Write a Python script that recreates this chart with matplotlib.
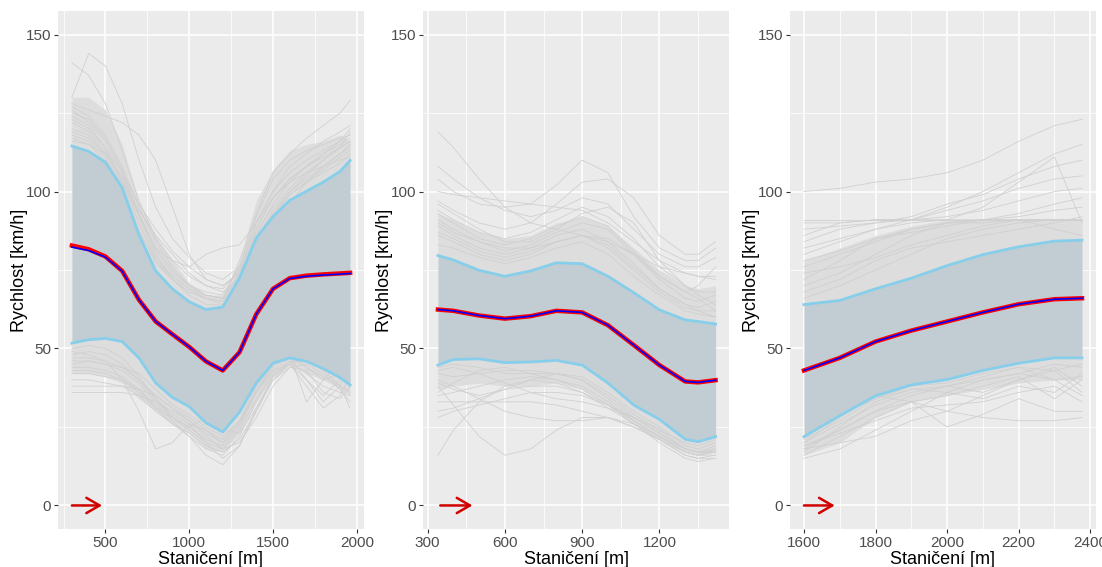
import matplotlib.pyplot as plt
import numpy as np

plt.rcParams["font.family"] = ["Liberation Sans", "DejaVu Sans"]

# ---- panel 1 -------------------------------------------------------------
p1_x = [300, 400, 500, 600, 700, 800, 900, 1000, 1100, 1200, 1300, 1400,
        1500, 1600, 1700, 1800, 1900, 1960]
p1_upper = [114.5, 112.8, 109.3, 101.2, 86.2, 74.7, 69.0, 64.9, 62.4, 63.2,
            72.4, 85.1, 92.0, 97.2, 100.1, 103.0, 106.4, 109.9]
p1_lower = [51.7, 52.8, 53.2, 52.2, 47.0, 39.0, 34.4, 31.5, 26.3, 23.4,
            29.7, 39.0, 45.3, 47.0, 45.9, 43.6, 40.7, 38.4]
p1_mean = [82.8, 81.6, 79.3, 74.7, 65.5, 58.6, 54.5, 50.5, 45.9, 43.0,
           48.8, 60.9, 69.0, 72.4, 73.2, 73.6, 73.9, 74.1]
p1_median = [82.3, 81.2, 79.1, 74.6, 65.5, 58.6, 54.5, 50.5, 45.9, 43.0,
             48.8, 60.9, 69.0, 72.3, 73.0, 73.4, 73.7, 73.9]
p1_dense_hi = [130, 130, 126, 115, 97, 86, 78, 71, 67, 67, 78, 97, 107, 113,
               115, 116, 118, 116]
p1_dense_lo = [42, 42, 41, 39, 34, 30, 26, 23, 18, 17, 23, 33, 41, 45, 42,
               40, 37, 35]
p1_grey_hi = [
    [141, 137, 128, 113, 97, 85, 78, 73, 70, 69, 75, 88, 98, 104, 108, 111, 114, 116],
    [130, 144, 140, 128, 110, 95, 85, 79, 74, 72, 76, 90, 100, 106, 110, 113, 116, 118],
    [128, 126, 124, 122, 118, 110, 95, 80, 72, 70, 74, 86, 96, 103, 108, 112, 115, 117],
    [126, 122, 116, 106, 92, 82, 78, 76, 80, 82, 83, 90, 98, 103, 106, 108, 110, 111],
    [124, 121, 114, 104, 92, 80, 72, 68, 66, 65, 74, 90, 100, 108, 112, 116, 119, 121],
    [122, 119, 113, 103, 90, 79, 73, 69, 66, 64, 72, 88, 98, 104, 108, 112, 116, 120],
    [120, 118, 112, 102, 88, 77, 72, 68, 66, 65, 78, 93, 106, 112, 117, 121, 125, 129],
    [118, 116, 111, 100, 87, 78, 73, 69, 67, 66, 74, 87, 95, 101, 106, 110, 114, 116],
    [127, 124, 118, 108, 95, 84, 76, 70, 67, 66, 73, 85, 94, 100, 104, 108, 112, 114],
    [116, 115, 112, 104, 90, 78, 72, 67, 64, 64, 73, 86, 93, 99, 103, 107, 111, 113],
    [123, 120, 114, 106, 96, 88, 81, 76, 72, 70, 74, 84, 93, 100, 105, 110, 114, 119],
    [119, 117, 112, 105, 93, 82, 75, 70, 67, 66, 68, 75, 86, 96, 103, 108, 112, 115],
    [125, 123, 117, 107, 93, 81, 74, 70, 68, 67, 76, 92, 104, 110, 113, 115, 117, 118],
    [117, 115, 110, 103, 94, 86, 80, 74, 70, 68, 72, 82, 92, 99, 103, 106, 109, 112],
]
p1_grey_lo = [
    [47, 47, 46, 44, 40, 34, 28, 24, 20, 18, 24, 34, 43, 47, 46, 44, 42, 40],
    [44, 44, 43, 41, 37, 31, 26, 22, 18, 16, 22, 33, 42, 46, 42, 38, 36, 35],
    [40, 40, 39, 38, 35, 30, 26, 23, 19, 17, 21, 30, 40, 45, 40, 35, 40, 42],
    [38, 38, 38, 38, 37, 35, 31, 27, 22, 18, 20, 28, 38, 44, 45, 42, 37, 33],
    [49, 48, 46, 40, 30, 18, 20, 26, 24, 20, 26, 36, 44, 48, 44, 40, 42, 44],
    [45, 46, 45, 43, 39, 33, 28, 25, 21, 19, 25, 36, 45, 48, 33, 40, 46, 40],
    [36, 36, 36, 36, 35, 33, 30, 27, 23, 20, 26, 37, 45, 47, 40, 33, 38, 45],
    [50, 51, 50, 47, 41, 34, 29, 26, 20, 15, 19, 30, 41, 46, 46, 43, 38, 31],
    [42, 42, 41, 40, 37, 32, 27, 22, 16, 13, 19, 31, 41, 45, 47, 45, 42, 39],
    [48, 49, 48, 45, 40, 35, 31, 28, 24, 21, 27, 38, 45, 47, 44, 41, 38, 36],
    [43, 43, 42, 40, 36, 31, 28, 25, 28, 24, 23, 31, 40, 44, 43, 36, 34, 38],
    [46, 46, 45, 44, 42, 37, 32, 29, 25, 22, 27, 36, 43, 45, 38, 31, 35, 41],
]

# ---- panel 2 -------------------------------------------------------------
p2_x = [340, 400, 500, 600, 700, 800, 900, 1000, 1100, 1200, 1300, 1350, 1418]
p2_upper = [79.6, 78.2, 74.9, 73.0, 74.7, 77.3, 77.0, 73.0, 67.8, 62.3,
            59.1, 58.6, 57.8]
p2_lower = [44.7, 46.5, 46.7, 45.5, 45.7, 46.2, 44.7, 39.0, 32.0, 27.4,
            21.1, 20.3, 21.9]
p2_mean = [62.4, 62.0, 60.5, 59.5, 60.3, 62.0, 61.5, 57.4, 51.1, 44.7,
           39.5, 39.2, 39.9]
p2_dense_hi = [93, 91, 87, 85, 86, 90, 92, 89, 82, 75, 70, 69, 70]
p2_dense_lo = [37, 38, 39, 38, 38, 39, 37, 32, 26, 21, 17, 16, 17]
p2_grey_hi = [
    [119, 114, 104, 95, 90, 88, 86, 84, 80, 76, 74, 73, 73],
    [108, 104, 98, 94, 92, 94, 98, 96, 88, 80, 76, 76, 79],
    [104, 100, 96, 95, 96, 102, 110, 106, 92, 82, 78, 78, 82],
    [97, 94, 90, 88, 90, 96, 103, 104, 98, 86, 80, 80, 84],
    [94, 91, 87, 85, 87, 91, 95, 92, 85, 76, 70, 68, 68],
    [91, 88, 84, 81, 83, 87, 90, 88, 80, 72, 66, 65, 67],
    [89, 86, 82, 80, 82, 86, 88, 84, 77, 69, 64, 63, 65],
    [86, 84, 80, 78, 80, 84, 86, 82, 75, 68, 63, 62, 62],
    [100, 99, 98, 97, 96, 95, 94, 90, 84, 78, 74, 73, 72],
    [93, 90, 85, 83, 85, 89, 92, 89, 81, 73, 68, 70, 76],
    [87, 85, 81, 79, 81, 84, 86, 83, 76, 69, 64, 62, 60],
    [83, 82, 79, 77, 79, 82, 84, 80, 73, 67, 62, 61, 60],
    [96, 93, 88, 84, 84, 88, 93, 95, 90, 78, 70, 67, 64],
    [90, 87, 84, 82, 82, 84, 86, 85, 80, 73, 68, 66, 62],
]
p2_grey_lo = [
    [16, 24, 33, 38, 40, 39, 36, 32, 27, 22, 17, 16, 17],
    [38, 32, 22, 16, 18, 24, 28, 28, 25, 21, 16, 15, 16],
    [33, 33, 33, 33, 33, 32, 30, 28, 25, 21, 17, 16, 16],
    [40, 38, 34, 30, 28, 27, 27, 28, 26, 22, 18, 17, 18],
    [42, 41, 42, 43, 43, 42, 40, 35, 29, 24, 18, 17, 19],
    [36, 39, 43, 44, 42, 40, 37, 32, 26, 21, 16, 15, 15],
    [44, 45, 44, 42, 42, 42, 41, 36, 30, 25, 19, 18, 20],
    [30, 31, 34, 37, 38, 38, 36, 31, 26, 20, 15, 14, 15],
    [43, 44, 42, 39, 36, 34, 33, 31, 28, 24, 20, 19, 21],
    [39, 37, 35, 37, 40, 42, 40, 34, 28, 23, 18, 17, 17],
    [35, 36, 38, 40, 41, 40, 38, 33, 27, 22, 17, 16, 18],
    [28, 30, 32, 34, 36, 36, 35, 32, 28, 23, 18, 17, 17],
]

# ---- panel 3 -------------------------------------------------------------
p3_x = [1600, 1700, 1800, 1900, 2000, 2100, 2200, 2300, 2377]
p3_upper = [64.0, 65.3, 69.0, 72.4, 76.4, 79.9, 82.4, 84.2, 84.5]
p3_lower = [21.9, 28.6, 34.9, 38.4, 40.1, 43.0, 45.3, 47.0, 47.0]
p3_mean = [43.0, 47.0, 52.2, 55.7, 58.6, 61.5, 64.1, 65.7, 66.0]
p3_dense_hi = [78, 82, 86, 89, 91, 91, 91, 91, 91]
p3_dense_lo = [16, 20, 28, 33, 35, 37, 39, 40, 40]
p3_grey_hi = [
    [100, 101, 103, 104, 106, 110, 116, 121, 123],
    [91, 91, 91, 91, 91, 91, 91, 91, 91],
    [90, 90, 91, 91, 91, 91, 91, 91, 91],
    [80, 84, 88, 91, 95, 100, 106, 112, 115],
    [70, 74, 80, 86, 90, 91, 91, 91, 91],
    [76, 80, 84, 88, 90, 90, 91, 91, 91],
    [66, 70, 75, 80, 85, 88, 90, 91, 91],
    [84, 88, 90, 92, 96, 99, 104, 108, 110],
    [68, 72, 78, 82, 84, 86, 88, 90, 92],
    [86, 90, 91, 91, 94, 97, 101, 104, 105],
    [72, 78, 85, 87, 89, 91, 93, 96, 98],
    [74, 76, 79, 83, 86, 89, 91, 88, 86],
    [82, 85, 88, 90, 91, 95, 103, 111, 90],
    [88, 89, 90, 91, 92, 94, 97, 100, 101],
    [78, 81, 85, 88, 90, 91, 92, 94, 95],
]
p3_grey_lo = [
    [18, 20, 22, 27, 30, 28, 27, 27, 28],
    [15, 18, 24, 30, 36, 40, 42, 40, 35],
    [19, 24, 30, 33, 25, 29, 34, 30, 30],
    [20, 26, 32, 36, 38, 36, 40, 44, 38],
    [17, 25, 33, 37, 36, 34, 38, 36, 42],
    [21, 27, 34, 37, 38, 40, 42, 45, 44],
    [16, 22, 28, 33, 35, 38, 41, 34, 40],
    [20, 28, 35, 33, 30, 35, 40, 43, 36],
    [18, 24, 30, 35, 38, 41, 44, 43, 45],
    [22, 29, 34, 38, 39, 42, 44, 40, 41],
    [19, 23, 27, 31, 32, 33, 36, 38, 33],
]

panels = [
    dict(x=p1_x, up=p1_upper, lo=p1_lower, mean=p1_mean, med=p1_median,
         dhi=p1_dense_hi, dlo=p1_dense_lo, ghi=p1_grey_hi, glo=p1_grey_lo,
         arrow=(300, 480), xlim=(217, 2043), xticks=[500, 1000, 1500, 2000]),
    dict(x=p2_x, up=p2_upper, lo=p2_lower, mean=p2_mean, med=p2_mean,
         dhi=p2_dense_hi, dlo=p2_dense_lo, ghi=p2_grey_hi, glo=p2_grey_lo,
         arrow=(349, 474), xlim=(282, 1470), xticks=[300, 600, 900, 1200]),
    dict(x=p3_x, up=p3_upper, lo=p3_lower, mean=p3_mean, med=p3_mean,
         dhi=p3_dense_hi, dlo=p3_dense_lo, ghi=p3_grey_hi, glo=p3_grey_lo,
         arrow=(1600, 1686), xlim=(1561, 2416),
         xticks=[1600, 1800, 2000, 2200, 2400]),
]

W, H = 1102, 567
fig = plt.figure(figsize=(W / 100, H / 100), dpi=100)
lefts = [58, 423, 790]
for left, p in zip(lefts, panels):
    ax = fig.add_axes([left / W, 1 - 529 / H, 306 / W, 518 / H])
    ax.set_facecolor("#EBEBEB")
    for s in ax.spines.values():
        s.set_visible(False)
    ax.set_xticks(p["xticks"])
    ax.set_yticks([0, 50, 100, 150])
    step = p["xticks"][1] - p["xticks"][0]
    ax.set_xticks([t - step / 2 for t in p["xticks"]] + [p["xticks"][-1] + step / 2],
                  minor=True)
    ax.set_yticks([25, 75, 125], minor=True)
    # limits after the ticks, set_xticks would widen them otherwise
    ax.set_xlim(*p["xlim"])
    ax.set_ylim(-7.5, 157.5)
    ax.grid(which="major", color="white", lw=1.1, zorder=0)
    ax.grid(which="minor", color="white", lw=0.55, zorder=0)
    ax.set_axisbelow(True)
    ax.tick_params(which="major", length=3, width=0.8, color="#333333",
                   labelcolor="#4D4D4D", labelsize=11, pad=2)
    ax.tick_params(which="minor", length=0)

    # dense part of the individual-ride cloud next to the band
    ax.fill_between(p["x"], p["up"], p["dhi"], color="#DDDDDD", lw=0, zorder=1)
    ax.fill_between(p["x"], p["dlo"], p["lo"], color="#DDDDDD", lw=0, zorder=1)
    for g in p["ghi"] + p["glo"]:
        ax.plot(p["x"], g, color="#D0D0D0", lw=0.6, zorder=1)
    ax.fill_between(p["x"], p["lo"], p["up"], color="#C1CDD3", lw=0, zorder=2)
    ax.plot(p["x"], p["up"], color="#87CEEB", lw=2, zorder=3)
    ax.plot(p["x"], p["lo"], color="#87CEEB", lw=2, zorder=3)
    ax.plot(p["x"], p["mean"], color="#FF0000", lw=3.2, zorder=4)
    ax.plot(p["x"], p["med"], color="#0000FF", lw=1.2, zorder=5)

    ax.annotate("", xy=(p["arrow"][1], 0), xytext=(p["arrow"][0], 0),
                arrowprops=dict(arrowstyle="->,head_length=0.95,head_width=0.55",
                                color="#D00000", lw=1.8, shrinkA=0, shrinkB=0),
                zorder=6)

    ax.set_xlabel("Staničení [m]", fontsize=13, labelpad=1)
    ax.set_ylabel("Rychlost [km/h]", fontsize=13, labelpad=-1.5)

fig.savefig("out.png", dpi=100)
